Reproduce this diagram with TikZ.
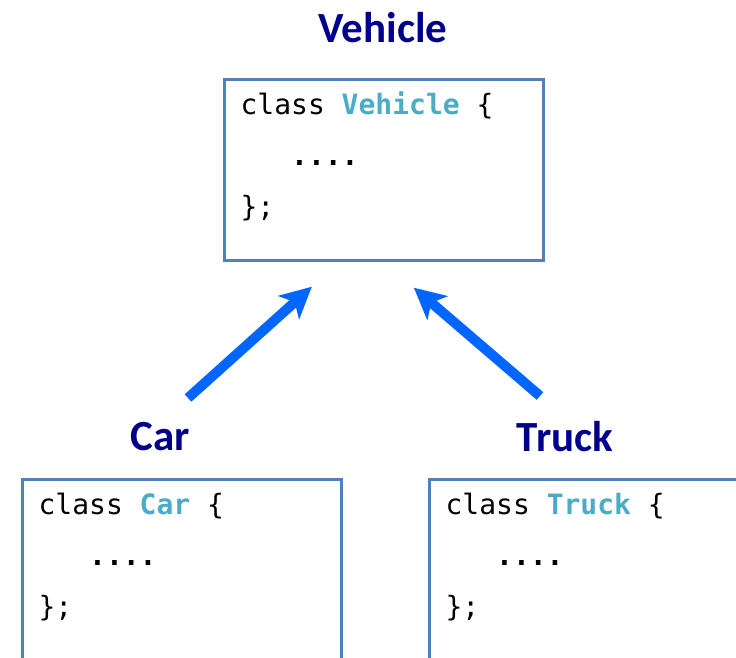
\documentclass[tikz,border=0pt]{standalone}
\usepackage{fontspec}
\setmainfont{Carlito}
\setmonofont{DejaVu Sans Mono}
\usetikzlibrary{arrows.meta}
\definecolor{myBorderColor}{RGB}{79,129,189}
\definecolor{myTitleColor}{RGB}{0,0,140}
\definecolor{myNameColor}{RGB}{75,172,198}
\definecolor{myArrowColor}{RGB}{0,102,255}
% one monospaced blank, and the three code lines of a class
\newcommand{\codesp}{\hspace*{.6021em}}
\newcommand{\classcode}[1]{%
    \parbox[c][181pt][t]{286.5pt}{\raggedright
        \rule{0pt}{34.5pt}class\codesp\textcolor{myNameColor}{\bfseries #1}\codesp\{\\
        \codesp\codesp\codesp{\bfseries ....}\\
        \};}}

\begin{document}
\begin{tikzpicture}[
    x=1pt, y=-1pt,
    classbox/.style={
        draw=myBorderColor, line width=3.2pt, fill=white, anchor=north west,
        font=\ttfamily\fontsize{28}{51}\selectfont, inner xsep=16pt, inner ysep=0pt
    },
    title/.style={font=\bfseries\fontsize{43}{50}\selectfont, text=myTitleColor, inner sep=0pt},
    arrow/.style={-{Stealth[length=31pt, width=31pt, inset=8pt]}, line width=10pt, color=myArrowColor}
]
    \useasboundingbox (0,0) rectangle (736,657);
    \clip (0,0) rectangle (736,657);

    \node[classbox] (vehicle) at (223,78) {\classcode{Vehicle}};
    \node[classbox] (car) at (21,478) {\classcode{Car}};
    \node[classbox] (truck) at (428,478) {\classcode{Truck}};

    \node[title] (vehicletitle) at (383,28) {Vehicle};
    \node[title] (cartitle) at (160,437) {Car};
    \node[title] (trucktitle) at (565,437) {Truck};

    \coordinate (cartail) at ([shift={(28,-39)}]cartitle.center);
    \coordinate (trucktail) at ([shift={(-25,-41)}]trucktitle.center);

    \draw[arrow] (cartail) -- ([shift={(-72,24.5)}]vehicle.south);
    \draw[arrow] (trucktail) -- ([shift={(30,25.5)}]vehicle.south);
\end{tikzpicture}
\end{document}
